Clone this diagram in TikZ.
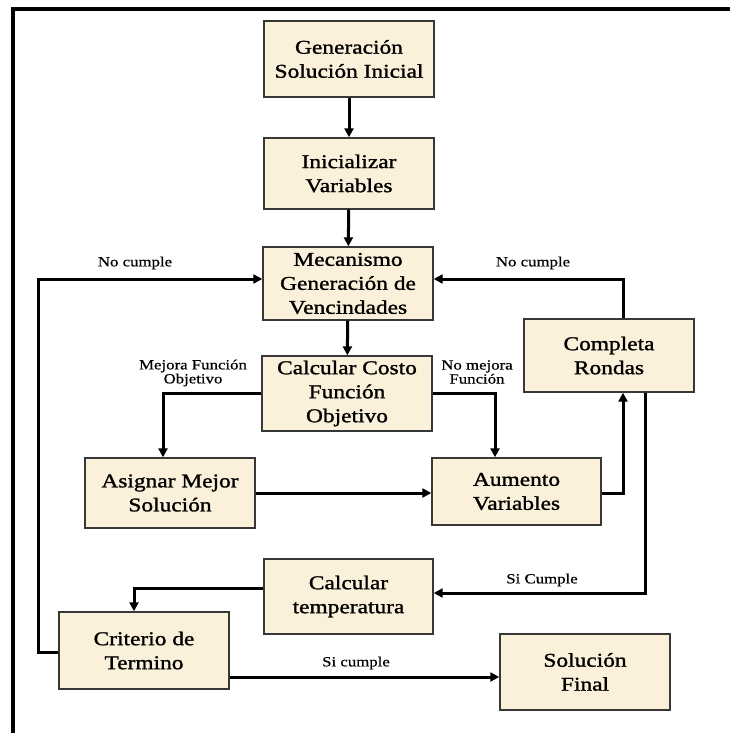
\documentclass[tikz,border=0pt]{standalone}
\usepackage{fontspec}
\setmainfont{Liberation Serif}
\newfontfamily\boxfont[FakeStretch=1.2,FakeBold=1.3]{Liberation Serif}
\newfontfamily\lblfont[FakeStretch=1.2,FakeBold=0.6]{Liberation Serif}
\usetikzlibrary{arrows.meta,calc}
\definecolor{boxfill}{RGB}{251,240,217}
\definecolor{boxline}{RGB}{55,55,55}
\begin{document}
\begin{tikzpicture}[x=1pt,y=-1pt,
  procbox/.style={draw=boxline,line width=1.4pt,fill=boxfill,
    minimum width=170pt,align=center,inner sep=2pt,
    font=\boxfont\fontsize{19.5}{24}\selectfont},
  link/.style={line width=3pt,-{Triangle[length=9pt,width=9pt]}},
  lbl/.style={font=\lblfont\fontsize{14}{14}\selectfont,align=center,inner sep=0pt}]
  \useasboundingbox (0,0) rectangle (730,733);
  % outer frame (top and left edges only)
  \draw[line width=4pt] (13,733) -- (13,9) -- (730,9);

  % process boxes
  \node[procbox,minimum height=76pt] (gen) at (349,59)    {Generación\\Solución Inicial};
  \node[procbox,minimum height=71pt] (ini) at (349,173.5) {Inicializar\\Variables};
  \node[procbox,minimum height=73pt] (mec) at (348,283.5) {Mecanismo\\Generación de\\Vencindades};
  \node[procbox,minimum height=75pt] (cos) at (347,393.5) {Calcular Costo\\Función\\Objetivo};
  \node[procbox,minimum height=73pt] (com) at (609,355.5) {Completa\\Rondas};
  \node[procbox,minimum height=70pt] (asi) at (170,493)   {Asignar Mejor\\Solución};
  \node[procbox,minimum height=67pt,minimum width=169pt] (aum) at (516.5,491.5) {Aumento\\Variables};
  \node[procbox,minimum height=75pt,minimum width=169pt] (tem) at (348.5,596.5) {Calcular\\temperatura};
  \node[procbox,minimum height=77pt] (cri) at (144,650.5) {Criterio de\\Termino};
  \node[procbox,minimum height=76pt] (fin) at (585,672)   {Solución\\Final};

  % main sequence
  \draw[link] (gen) -- (ini);
  \draw[link] (ini) -- (mec);
  \draw[link] (mec) -- (cos);

  % branches out of the cost evaluation
  \draw[link] (cos.west) -| ($(asi.north)+(-7,0)$);
  \draw[link] (cos.east) -| ($(aum.north)+(-21.5,0)$);
  \node[lbl] (lmej) at (193,373) {Mejora Función\\Objetivo};
  \node[lbl] (lnom) at (477,372) {No mejora\\Función};

  \draw[link] (asi.east |- 0,493) -- (aum.west |- 0,493);
  \draw[link] (aum.east |- 0,493) -| ($(com.south)+(14,0)$);

  % round completion: back to neighbourhood or on to temperature
  \coordinate (comtop) at ($(com.north)+(14,0)$);
  \draw[link] (comtop) |- (mec.east |- 0,279);
  \node[lbl] (lnc1) at (533,263) {No cumple};
  \coordinate (combot) at ($(com.south)+(36,0)$);
  \draw[link] (combot) |- (tem.east |- 0,593);
  \node[lbl] (lsc1) at (542,580) {Si Cumple};

  \draw[link] (tem.west |- 0,588) -| ($(cri.north)+(-10,0)$);

  % stopping criterion
  \coordinate (loopx) at (38,652);
  \draw[link] (cri.west |- 0,652) -- (loopx) |- (mec.west |- 0,279);
  \node[lbl] (lnc2) at (135,263) {No cumple};
  \draw[link] (cri.east |- 0,677) -- (fin.west |- 0,677);
  \node[lbl] (lsc2) at (356,663) {Si cumple};
\end{tikzpicture}
\end{document}
